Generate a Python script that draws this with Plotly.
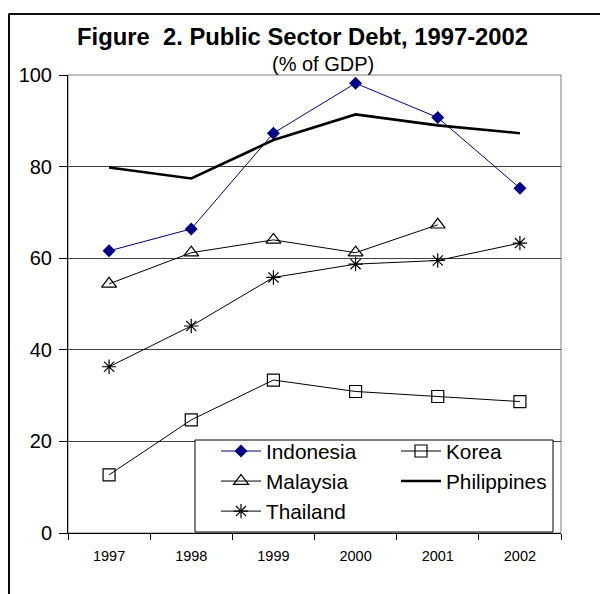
import plotly.graph_objects as go

years = ["1997", "1998", "1999", "2000", "2001", "2002"]
indonesia = [61.6, 66.4, 87.3, 98.2, 90.7, 75.3]
korea = [12.7, 24.7, 33.4, 30.9, 29.8, 28.7]
malaysia = [54.4, 61.2, 64.0, 61.2, 67.3, None]
philippines = [79.8, 77.4, 85.8, 91.4, 89.0, 87.3]
thailand = [36.3, 45.2, 55.8, 58.7, 59.5, 63.3]

FONT = "Liberation Sans, Arial, sans-serif"

# plot-area pixel geometry
W, H = 600, 594
L, R, T, B = 68, 39, 75, 61
pw, ph = W - L - R, H - T - B


def px(x):
    return (x - L) / pw


def py(y):
    return (H - B - y) / ph


fig = go.Figure()
fig.add_trace(go.Scatter(x=years, y=indonesia, name="Indonesia", mode="lines+markers",
                         line=dict(color="#000080", width=1),
                         marker=dict(symbol="diamond", size=10, color="#000080")))
fig.add_trace(go.Scatter(x=years, y=korea, name="Korea", mode="lines+markers",
                         line=dict(color="black", width=1),
                         marker=dict(symbol="square-open", size=12, color="black",
                                     line=dict(width=1.2))))
fig.add_trace(go.Scatter(x=years, y=malaysia, name="Malaysia", mode="lines+markers",
                         line=dict(color="black", width=1),
                         marker=dict(symbol="triangle-up-open", size=13, color="black",
                                     line=dict(width=1.2))))
fig.add_trace(go.Scatter(x=years, y=philippines, name="Philippines", mode="lines",
                         line=dict(color="black", width=2.6)))
fig.add_trace(go.Scatter(x=years, y=thailand, name="Thailand", mode="lines+markers",
                         line=dict(color="black", width=1),
                         marker=dict(symbol="asterisk-open", size=12, color="black",
                                     line=dict(width=1.2, color="black"))))

frame = dict(color="black", width=1.6)
fig.update_layout(
    width=W, height=H,
    margin=dict(l=L, r=R, t=T, b=B),
    paper_bgcolor="white", plot_bgcolor="white",
    font=dict(family=FONT, color="black"),
    showlegend=True,
    legend=dict(orientation="h", x=px(216), y=py(532), xanchor="left", yanchor="bottom",
                bgcolor="rgba(0,0,0,0)", borderwidth=0,
                font=dict(size=20.8, family=FONT), entrywidth=125, itemwidth=40,
                tracegroupgap=0),
    xaxis=dict(type="category", range=[-0.5, 5.5], showgrid=False,
               ticks="outside", tickson="boundaries", ticklen=6, tickcolor="black",
               showline=True, linecolor="black", linewidth=1, ticklabelstandoff=10,
               tickfont=dict(size=14.5, family=FONT), zeroline=False),
    yaxis=dict(range=[0, 100], dtick=20, ticks="outside", ticklen=8, tickcolor="black",
               showline=True, linecolor="black", linewidth=1, ticklabelstandoff=3,
               showgrid=True, gridcolor="#404040", gridwidth=1,
               tickfont=dict(size=20, family=FONT), zeroline=False),
    shapes=[
        # outer chart frame (drawn beneath everything)
        dict(type="rect", xref="paper", yref="paper",
             x0=px(9), y0=py(598), x1=px(604), y1=py(14),
             line=frame, fillcolor="rgba(0,0,0,0)", layer="below"),
        # plot-area border (grey)
        dict(type="rect", xref="paper", yref="paper", x0=0, y0=0, x1=1, y1=1,
             line=dict(color="#808080", width=1), layer="below"),
        # legend box
        dict(type="rect", xref="paper", yref="paper",
             x0=px(195), y0=py(532), x1=px(553), y1=py(440),
             line=dict(color="black", width=1), fillcolor="white", layer="above"),
        # outer chart frame as lines
        dict(type="line", xref="paper", yref="paper",
             x0=px(9), y0=py(14), x1=px(600), y1=py(14), line=frame, layer="above"),
        dict(type="line", xref="paper", yref="paper",
             x0=px(9), y0=py(14), x1=px(9), y1=py(594), line=frame, layer="above"),
    ],
    annotations=[
        dict(text="Figure\u00a0\u00a02. Public Sector Debt, 1997-2002", xref="paper", yref="paper",
             x=px(302), y=py(37), xanchor="center", yanchor="middle", showarrow=False,
             font=dict(size=23.8, family=FONT, color="black", weight="bold")),
        dict(text="(% of GDP)", xref="paper", yref="paper",
             x=px(322.5), y=py(64), xanchor="center", yanchor="middle", showarrow=False,
             font=dict(size=20, family=FONT, color="black")),
    ],
)

fig.write_html("out.html")
